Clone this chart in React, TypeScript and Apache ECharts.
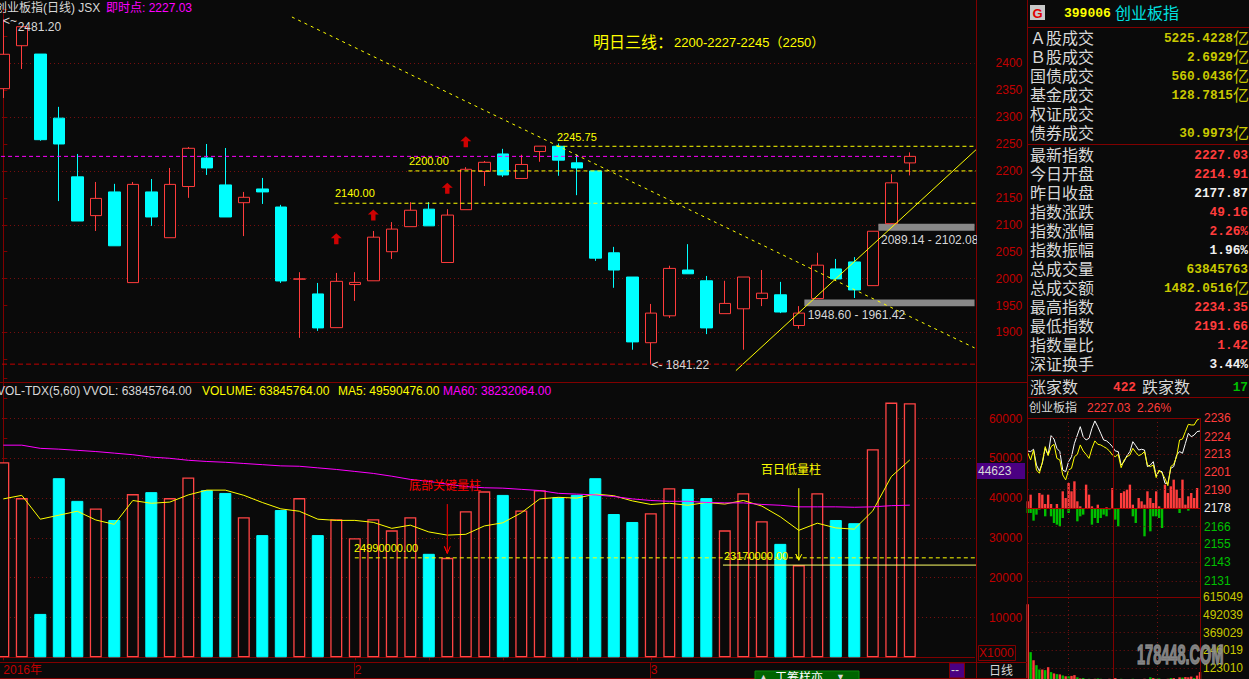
import React, { useEffect, useRef } from "react";
import * as echarts from "echarts";

const candleOpen = [2352.7,2432.5,2417,2298,2189,2117,2161,1992.6,2161,2076,2171,2224,2174,2141,2166.5,2133,1999,1971.6,1909,1989,1996,2050,2096.5,2129,2030,2128,2199,2231.5,2186,2236,2245.75,2215,2200,2048,2003,1881,1931,2016,1996,1935,1944,1963,1970,1913,1963,2018,2031,1987,2102,2214.91];
const candleClose = [2416.6,2467.8,2258,2250,2107,2149,2061,2175,2114.5,2175,2242,2205.5,2114.5,2151,2161,1995.7,1999.5,1908.5,1995,1993,2077,2092,2127,2098,2118,2203,2216,2192.5,2212,2246,2220,2205.5,2038,2016,1882.5,1936,2019,2009,1908.5,1954,2003,1973,1938,1936,2025,1999.5,1979,2088,2177.87,2227.03];
const candleLow = [2335.4,2389.3,2256,2144,2107,2088.5,2061,1992.6,2098,2076,2150,2192.5,2114.5,2079,2138.7,1992,1890,1903,1909,1958.6,1996,2036.6,2096.5,2098,2030,2128,2172,2189,2186,2217,2191,2155,2033,1983,1868,1841.22,1927,2009,1897,1935,1868,1949,1936,1907,1963,1997.6,1964,1987,2102,2191.66];
const candleHigh = [2481.2,2467.8,2417,2319,2231.5,2179.5,2176,2179.5,2185,2205.5,2244.5,2250,2242.6,2161,2187,2137,2012,1992,2010.6,2012,2088.5,2105,2142,2142,2129,2207,2218.5,2241,2230,2246,2251,2230,2200,2059,2003,1953,2024,2064,2005,1996,2003,2016,1994,1949,2048,2036.6,2040,2088,2194,2234.35];
const volumeK = [49,40,10.9,45,39.3,37.4,34.5,41,41.5,40,45.2,42,41.3,35.2,30.7,37,40,30.7,34.7,29.9,34.7,31.9,35.2,26,24.99,36.7,41.7,40.8,36.9,42,40.2,40.8,45,36,34,36.2,42.5,42.3,40,31.9,41.2,34.2,28.5,23.17,41.2,34.5,33.7,52.3,64,63.85];
const ma5K = [39.8,40.7,34.7,35.7,36.7,34.5,33.4,39.4,38.7,39,40.8,42,42,40.7,38.9,37.3,36.7,34.7,34.4,34.4,33.9,32.4,33.2,31.5,30.7,30.9,33,33.8,36.3,39.8,40.2,40,41,40.6,39.3,38.4,38.7,38.2,38.9,38.5,39.4,38,35.3,31.9,33.7,32.5,32.2,36.8,45.4,49.59];
const ma60K = [53.3,53.3,52.5,52.3,52,51.7,51.3,50.9,50.3,50,49.5,49.2,49,48.7,48.4,48.1,48,47.6,47.2,46.7,46.2,45.5,44.7,44.2,43.5,42.9,42.6,42.5,42.2,41.9,41.2,41,40.8,40.4,39.8,39.4,39.2,39.2,38.9,38.8,38.8,38.4,38.2,37.8,37.8,37.8,37.7,37.8,38.1,38.23];

const tickLabels: Record<number, string> = { 0: "2016年", 19: "2", 23: "", 27: "", 31: "", 35: "3" };
const dayCategories = Array.from({ length: 53 }, (_, i) => String(i));

const signalArrows = [[18, 2074], [20, 2118], [24, 2168], [25, 2254]];
const fallingTrend = [[15.6, 2485.8], [52.5, 1871.4]];
const risingTrend = [[39.6, 1829.2], [52.6, 2240]];
const level2245 = [[29.9, 2245.75], [52.6, 2245.75]];
const level2200 = [[21.9, 2200], [52.6, 2200]];
const level2140 = [[17.9, 2140], [52.6, 2140]];
const levelNow = [[-0.5, 2227.03], [48.7, 2227.03]];
const levelLow = [[-0.5, 1841.22], [52.6, 1841.22]];
const gapBands = [[43.3, 1948.6, 52.6, 1961.42], [47.3, 2089.14, 52.6, 2102.08]];
const volLevelDash = [[19, 24.99], [52.6, 24.99]];
const volLevelSolid = [[38.9, 23.17], [52.6, 23.17]];
const redArrow = [[24, 38.5], [24, 26.1], [23.84, 27.9], [24, 26.1], [24.16, 27.9]];
const yellowArrow = [[43, 42.5], [43, 24.4], [42.84, 25.9], [43, 24.4], [43.16, 25.9]];

const miniWhite = [2214.9,2214.5,2216,2205.8,2202,2206.9,2216.6,2212.3,2224.8,2222.6,2216.6,2214.5,2202.6,2201.5,2208,2211.2,2219.8,2225.2,2230.6,2224.1,2222,2223.1,2229.5,2234.3,2230.6,2226.3,2222,2221.4,2219.8,2217.7,2214.9,2214.5,2205.8,2208,2211.9,2214.5,2220.9,2218.3,2215.5,2216,2215.5,2204.8,2205.8,2208,2198.7,2202,2201.5,2194,2194,2203.7,2204.8,2212.3,2214.5,2213.4,2219.8,2226.3,2224.1,2225.2,2227.4,2227.8];
const miniYellow = [2213.8,2209.1,2215.5,2202.6,2200.5,2207.6,2217.7,2211.9,2217.7,2219.2,2210.1,2209.1,2199.4,2196.2,2202.6,2203.7,2211.2,2212.7,2218.8,2214.9,2212.7,2210.1,2216.6,2221.4,2219.2,2218.8,2217.7,2216.6,2214.9,2212.3,2211.2,2212.7,2204.1,2209.1,2211.2,2212.3,2216.6,2214,2211.9,2212.7,2214.5,2205.8,2204.8,2205.8,2197.7,2202.6,2200.5,2197.2,2192.5,2204.8,2206.3,2211.2,2222,2222.6,2227.4,2232.1,2231.7,2231.7,2234.9,2236];
const miniUp = [20,40,0,0,45,40,12,40,12,0,12,0,50,30,75,50,80,20,5,0,70,40,5,0,10,0,0,2,0,60,0,0,45,50,55,70,10,0,30,20,10,50,30,15,50,5,0,70,45,65,85,55,30,85,10,35,45,30,60,0];
const miniDown = [15,15,38,20,5,0,25,0,25,45,50,55,30,0,15,0,0,40,25,20,0,0,50,30,45,30,20,25,5,0,35,55,0,0,0,0,25,45,0,0,85,0,70,25,25,30,60,0,0,0,0,0,15,0,0,8,0,0,0,0];
const miniVolUp = [565,0,178,0,0,114,0,130,0,87,0,80,0,67,0,70,75,0,52,0,48,0,0,50,0,0,0,0,50,0,55,48,0,0,0,0,0,0,0,0,50,0,0,55,0,0,0,0,50,0,55,48,60,0,62,60,65,0,72,96];
const miniVolDown = [0,234,0,144,114,0,110,0,96,0,82,0,73,0,67,0,0,60,0,55,0,50,48,0,52,50,0,0,0,48,0,0,50,0,0,0,50,0,0,48,0,0,60,0,50,52,0,0,0,55,0,0,0,58,0,0,0,55,0,0];
const miniCategories = miniWhite.map((_, i) => String(i));
const miniPriceLevels = [2236, 2224, 2213, 2201, 2190, 2166, 2155, 2143, 2131];
const miniPriceLabels = [2236, 2224, 2213, 2201, 2190, 2178, 2166, 2155, 2143, 2131];
const miniVolLabels = [123010, 246019, 369029, 492039, 615049];

const turnoverRows = [
  ["Ａ股成交", "5225.4228"], ["Ｂ股成交", "2.6929"], ["国债成交", "560.0436"],
  ["基金成交", "128.7815"], ["权证成交", ""], ["债券成交", "30.9973"],
];
const indexRows = [
  ["最新指数", "2227.03", "up"], ["今日开盘", "2214.91", "up"], ["昨日收盘", "2177.87", "flat"],
  ["指数涨跌", "49.16", "up"], ["指数涨幅", "2.26%", "up"], ["指数振幅", "1.96%", "flat"],
  ["总成交量", "63845763", "vol"], ["总成交额", "1482.0516", "amt"], ["最高指数", "2234.35", "up"],
  ["最低指数", "2191.66", "up"], ["指数量比", "1.42", "up"], ["深证换手", "3.44%", "flat"],
];

const BG = "#0a0a0a";
const RED = "#ff3c3c";
const CYAN = "#00ffff";
const YELLOW = "#ffff00";
const FRAME = "#800000";
const AXIS_TXT = "#c00000";
const DOT = "#7a1010";
const LIGHT = "#d8d8d8";
const OLIVE = "#c8c800";
const CJK = '"Liberation Sans","Noto Sans CJK SC"';
const F12 = `12px ${CJK}`;
const F11 = `11px ${CJK}`;
const F16 = `16px "Noto Sans CJK SC"`;
const MONO = `bold 12.8px "Liberation Mono"`;

const T = (text: string, x: number, y: number, fill: string, font: string, align = "left", z = 50) => ({
  type: "text", silent: true, z,
  style: { text, x, y, fill, font, align, verticalAlign: "middle" },
});
const L = (x1: number, y1: number, x2: number, y2: number, stroke = FRAME, dash?: number[]) => ({
  type: "line", silent: true, z: 40,
  shape: { x1, y1, x2, y2 },
  style: { stroke, lineWidth: 1, lineDash: dash },
});
const R = (x: number, y: number, width: number, height: number, fill: string, stroke?: string, z = 45) => ({
  type: "rect", silent: true, z,
  shape: { x, y, width, height },
  style: { fill, stroke },
});

const overlay = (data: number[][], color: string, type: any, xAxisIndex = 1, yAxisIndex = 0) => ({
  type: "line", xAxisIndex, yAxisIndex, data, symbol: "none", clip: false, silent: true, z: 5,
  lineStyle: { color, width: 1, type },
});

function buildGraphics() {
  const g: any[] = [];
  // frames
  g.push(L(0, 382.5, 1027, 382.5), L(0, 662.5, 1027, 662.5), L(0, 678.5, 1027, 678.5));
  g.push(L(976.5, 0, 976.5, 679), L(1027.5, 0, 1027.5, 679));
  g.push(L(1028, 27.5, 1249, 27.5), L(1028, 144.5, 1249, 144.5), L(1028, 375.5, 1249, 375.5), L(1028, 397.5, 1249, 397.5));
  g.push(L(354.5, 662, 354.5, 678), L(650.5, 662, 650.5, 678));
  // mini frame
  g.push(L(1028, 418.5, 1200, 418.5), L(1028, 597.5, 1200, 597.5), L(1200.5, 418, 1200.5, 679), L(1113.5, 418, 1113.5, 679));
  g.push(L(1028, 508.5, 1200, 508.5, "#b00000"));
  g.push(L(1068.5, 418, 1068.5, 679, DOT, [1, 3]), L(1157.5, 418, 1157.5, 679, DOT, [1, 3]));
  // price pane header and notes
  g.push(T("创业板指(日线) JSX", -5, 8, LIGHT, F12), T("即时点: 2227.03", 106, 8, "#ff00ff", F12));
  g.push(T("<~", 3, 21, LIGHT, F12), T("2481.20", 17.7, 27, LIGHT, F12));
  g.push(T("明日三线：", 593, 41, YELLOW, F16), T("2200-2227-2245（2250）", 674, 42, YELLOW, `13px ${CJK}`));
  g.push(T("2245.75", 557, 137, YELLOW, F11), T("2200.00", 409, 161, YELLOW, F11), T("2140.00", 335, 193, YELLOW, F11));
  g.push(T("<- 1841.22", 651.5, 364.5, LIGHT, F12));
  g.push(T("1948.60 - 1961.42", 807.7, 315, LIGHT, F12), T("2089.14 - 2102.08", 881, 240, LIGHT, F12));
  g.push(R(977, 233, 5, 14, BG, undefined, 55));
  // volume pane header and notes
  g.push(T("VOL-TDX(5,60)", -3, 391, LIGHT, F12), T("VVOL: 63845764.00", 83, 391, LIGHT, F12));
  g.push(T("VOLUME: 63845764.00", 202, 391, YELLOW, F12), T("MA5: 49590476.00", 338, 391, YELLOW, F12), T("MA60: 38232064.00", 443, 391, "#ff00ff", F12));
  g.push(T("底部关键量柱", 409, 486, "#ff0000", F12), T("百日低量柱", 761, 470, YELLOW, F12));
  g.push(T("24990000.00", 354, 548, YELLOW, F11), T("23170000.00", 724, 556, YELLOW, F11));
  g.push(R(977, 463, 48, 16, "#4b0082"), T("44623", 978, 471, LIGHT, F12));
  g.push(R(978.5, 645.5, 37, 15, "none", FRAME), T("X1000", 979, 653, AXIS_TXT, F12));
  // bottom strip
  g.push(R(949.5, 663, 15, 15, "#4b0082", FRAME), T("--", 951, 670, LIGHT, F12));
  g.push(T("日线", 989, 670.5, LIGHT, F12));
  g.push(R(755, 671, 104, 10, "#006400", "#0a8a0a"), L(771.5, 671, 771.5, 679, "#0a8a0a"), L(825.5, 671, 825.5, 679, "#0a8a0a"));
  g.push(T("▲", 759, 677, LIGHT, `9px ${CJK}`), T("工筹样亦", 775, 678, "#ffffff", F12), T("▼", 836, 677, LIGHT, `9px ${CJK}`));
  // info panel
  g.push(R(1030, 5, 15, 15, "#c8c8c8"), T("G", 1037.5, 13, "#e00000", `bold 13px ${CJK}`, "center"));
  g.push(T("399006", 1064, 13, YELLOW, `bold 13px "Liberation Mono"`), T("创业板指", 1115, 12, "#00e0e0", F16));
  turnoverRows.forEach(([name, value], i) => {
    const y = 38 + i * 19;
    g.push(T(name, 1030, y - 1.5, LIGHT, F16));
    if (value) g.push(T(value, 1233, y, OLIVE, MONO, "right"), T("亿", 1233, y - 1.5, OLIVE, F16));
  });
  indexRows.forEach(([name, value, kind], i) => {
    const y = 155.5 + i * 19;
    g.push(T(name, 1030, y - 1.5, LIGHT, F16));
    if (kind === "amt") g.push(T(value, 1233, y, OLIVE, MONO, "right"), T("亿", 1233, y - 1.5, OLIVE, F16));
    else g.push(T(value, 1248, y, kind === "up" ? RED : kind === "vol" ? OLIVE : "#f0f0f0", MONO, "right"));
  });
  g.push(T("涨家数", 1030, 386, LIGHT, F16), T("422", 1113, 387, RED, MONO), T("跌家数", 1142, 386, LIGHT, F16), T("17", 1248, 387, "#00c000", MONO, "right"));
  // mini header
  g.push(T("创业板指", 1029, 408, LIGHT, F12), T("2227.03  2.26%", 1087, 408, RED, F12));
  // watermark
  g.push({
    type: "text", silent: true, z: 60, x: 1137, y: 655, scaleX: 0.56, scaleY: 1.05,
    style: { text: "178448.COM", x: 0, y: 0, fill: "#8c8c8c", stroke: "#8c8c8c", lineWidth: 1.5, font: `bold 26px ${CJK}`, align: "left", verticalAlign: "middle", opacity: 0.9, shadowBlur: 3, shadowColor: "#555" },
  });
  return g;
}

function buildOption() {
  const candles = candleOpen.map((o, i) => [o, candleClose[i], candleLow[i], candleHigh[i]]);
  const volumeBars = volumeK.map((v, i) => {
    const up = candleClose[i] >= candleOpen[i];
    return { value: v * 1000, itemStyle: { color: up ? BG : CYAN, borderColor: up ? "#ff4444" : CYAN, borderWidth: up ? 1.3 : 1 } };
  });
  const scaled = (a: number[][]) => a.map(([x, v]) => [x, v * 1000]);
  const hiddenCat = (gridIndex: number, data: string[], boundaryGap = true) => ({ type: "category", gridIndex, data, boundaryGap, show: false });
  const hiddenVal = (gridIndex: number) => ({ type: "value", gridIndex, min: -0.5, max: 52.5, show: false, splitLine: { show: false } });
  const rightAxis = {
    position: "right", offset: 1.75, scale: false,
    axisLine: { show: true, lineStyle: { color: FRAME } },
    axisTick: { show: true, length: 4, lineStyle: { color: FRAME } },
  };
  return {
    animation: false,
    backgroundColor: BG,
    grid: [
      { left: -5.95, top: 9.35, width: 980.5, height: 377, outerBoundsMode: "none" },
      { left: -5.95, top: 378.7, width: 980.5, height: 278.6, outerBoundsMode: "none" },
      { left: 1027.7, top: 418.3, width: 172.3, height: 178.7, outerBoundsMode: "none" },
      { left: 1027.7, top: 597, width: 172.3, height: 89, outerBoundsMode: "none" },
    ],
    xAxis: [
      hiddenCat(0, dayCategories),
      hiddenVal(0),
      {
        type: "category", gridIndex: 1, data: dayCategories, position: "bottom", offset: 4.7,
        axisLine: { show: true, lineStyle: { color: FRAME } },
        axisTick: { show: true, alignWithLabel: true, length: 3, interval: (i: number) => i in tickLabels, lineStyle: { color: FRAME } },
        axisLabel: {
          show: true, interval: (i: number) => i in tickLabels, formatter: (v: string) => tickLabels[Number(v)] ?? "",
          color: AXIS_TXT, fontSize: 12, fontFamily: CJK, align: "left", margin: 2,
        },
      },
      hiddenVal(1),
      hiddenCat(2, miniCategories, false),
      hiddenCat(3, miniCategories, false),
    ],
    yAxis: [
      {
        ...rightAxis, type: "value", gridIndex: 0, min: 1800, max: 2500, interval: 50,
        splitLine: { show: true, showMinLine: false, showMaxLine: false, lineStyle: { color: ["transparent", DOT], type: [1, 3], width: 1 } },
        axisLabel: {
          color: AXIS_TXT, fontSize: 12, fontFamily: CJK, align: "right", margin: 46,
          formatter: (v: number) => (v >= 1900 && v <= 2400 ? String(v) : ""),
        },
      },
      {
        ...rightAxis, type: "value", gridIndex: 1, min: 0, max: 70000, interval: 5000,
        splitLine: { show: true, showMinLine: false, showMaxLine: false, lineStyle: { color: ["transparent", DOT], type: [1, 3], width: 1 } },
        axisLabel: {
          color: AXIS_TXT, fontSize: 12, fontFamily: CJK, align: "right", margin: 46,
          formatter: (v: number) => (v % 10000 === 0 && v > 0 && v <= 60000 ? String(v) : ""),
        },
      },
      {
        type: "value", gridIndex: 2, position: "right", min: 2120.57, max: 2236,
        axisLine: { show: false }, axisTick: { show: false }, splitLine: { show: false },
        axisLabel: {
          customValues: miniPriceLabels, margin: 4, fontSize: 12, fontFamily: CJK, formatter: (v: number) => String(v),
          color: (v: any) => (Number(v) > 2178 ? RED : Number(v) === 2178 ? "#f0f0f0" : "#00c000"),
        },
      },
      { type: "value", gridIndex: 2, min: -267, max: 269, show: false, splitLine: { show: false } },
      {
        type: "value", gridIndex: 3, position: "right", min: 0, max: 615049, interval: 123009.8,
        axisLine: { show: false }, axisTick: { show: false },
        splitLine: { show: true, showMaxLine: false, lineStyle: { color: DOT, type: [1, 3], width: 1 } },
        axisLabel: { customValues: miniVolLabels, margin: 3, color: OLIVE, fontSize: 12, fontFamily: CJK, formatter: (v: number) => String(v) },
      },
    ],
    series: [
      {
        type: "line", xAxisIndex: 1, yAxisIndex: 0, data: [], silent: true, z: 1,
        markArea: {
          silent: true, itemStyle: { color: "#888888" }, label: { show: false },
          data: gapBands.map(([x1, y1, x2, y2]) => [{ coord: [x1, y1] }, { coord: [x2, y2] }]),
        },
      },
      {
        type: "candlestick", xAxisIndex: 0, yAxisIndex: 0, data: candles, barWidth: 12, z: 3, silent: true,
        itemStyle: { color: BG, color0: CYAN, borderColor: RED, borderColor0: CYAN, borderWidth: 1 },
      },
      {
        type: "scatter", xAxisIndex: 0, yAxisIndex: 0, data: signalArrows, silent: true, z: 4,
        symbol: "path://M5 0 L10 5 L7 5 L7 11 L3 11 L3 5 L0 5 Z", symbolSize: [11, 11],
        itemStyle: { color: "#ff0000" },
      },
      overlay(fallingTrend, YELLOW, [3, 4]),
      overlay(risingTrend, YELLOW, "solid"),
      overlay(level2245, YELLOW, [4, 3]),
      overlay(level2200, YELLOW, [4, 3]),
      overlay(level2140, YELLOW, [4, 3]),
      overlay(levelNow, "#ff00ff", [4, 3]),
      overlay(levelLow, "#c00000", [5, 3]),
      { type: "bar", xAxisIndex: 2, yAxisIndex: 1, data: volumeBars, barWidth: 12, z: 3, silent: true },
      { type: "line", xAxisIndex: 2, yAxisIndex: 1, data: ma5K.map((v) => v * 1000), symbol: "none", silent: true, z: 5, lineStyle: { color: YELLOW, width: 1 } },
      { type: "line", xAxisIndex: 2, yAxisIndex: 1, data: ma60K.map((v) => v * 1000), symbol: "none", silent: true, z: 5, lineStyle: { color: "#ff00ff", width: 1 } },
      overlay(scaled(volLevelDash), YELLOW, [4, 3], 3, 1),
      overlay(scaled(volLevelSolid), "#ffff66", "solid", 3, 1),
      overlay(scaled(redArrow), "#ff0000", "solid", 3, 1),
      overlay(scaled(yellowArrow), YELLOW, "solid", 3, 1),
      {
        type: "bar", xAxisIndex: 4, yAxisIndex: 3, data: miniUp, barWidth: 2.4, silent: true, z: 2, barGap: "-100%",
        itemStyle: { color: RED },
      },
      {
        type: "bar", xAxisIndex: 4, yAxisIndex: 3, data: miniDown.map((v) => -v), barWidth: 2.4, silent: true, z: 2,
        itemStyle: { color: "#00c000" },
      },
      {
        type: "line", xAxisIndex: 4, yAxisIndex: 2, data: miniWhite, symbol: "none", silent: true, z: 4,
        lineStyle: { color: "#ffffff", width: 1 },
        markLine: {
          silent: true, symbol: "none", label: { show: false },
          lineStyle: { color: DOT, type: [1, 3], width: 1 },
          data: miniPriceLevels.map((v) => ({ yAxis: v })),
        },
      },
      { type: "line", xAxisIndex: 4, yAxisIndex: 2, data: miniYellow, symbol: "none", silent: true, z: 5, lineStyle: { color: YELLOW, width: 1 } },
      {
        type: "bar", xAxisIndex: 5, yAxisIndex: 4, data: miniVolUp.map((v) => v * 1000), barWidth: 2.4, silent: true, z: 2, barGap: "-100%",
        itemStyle: { color: RED },
      },
      {
        type: "bar", xAxisIndex: 5, yAxisIndex: 4, data: miniVolDown.map((v) => v * 1000), barWidth: 2.4, silent: true, z: 2,
        itemStyle: { color: "#00c000" },
      },
    ],
    graphic: buildGraphics(),
  };
}

export default function App() {
  const ref = useRef<HTMLDivElement>(null);
  useEffect(() => {
    const chart = echarts.init(ref.current!, undefined, { renderer: "svg" });
    chart.setOption(buildOption() as any);
    return () => chart.dispose();
  }, []);
  return <div ref={ref} style={{ position: "fixed", left: 0, top: 0, width: 1249, height: 679, background: BG }} />;
}
